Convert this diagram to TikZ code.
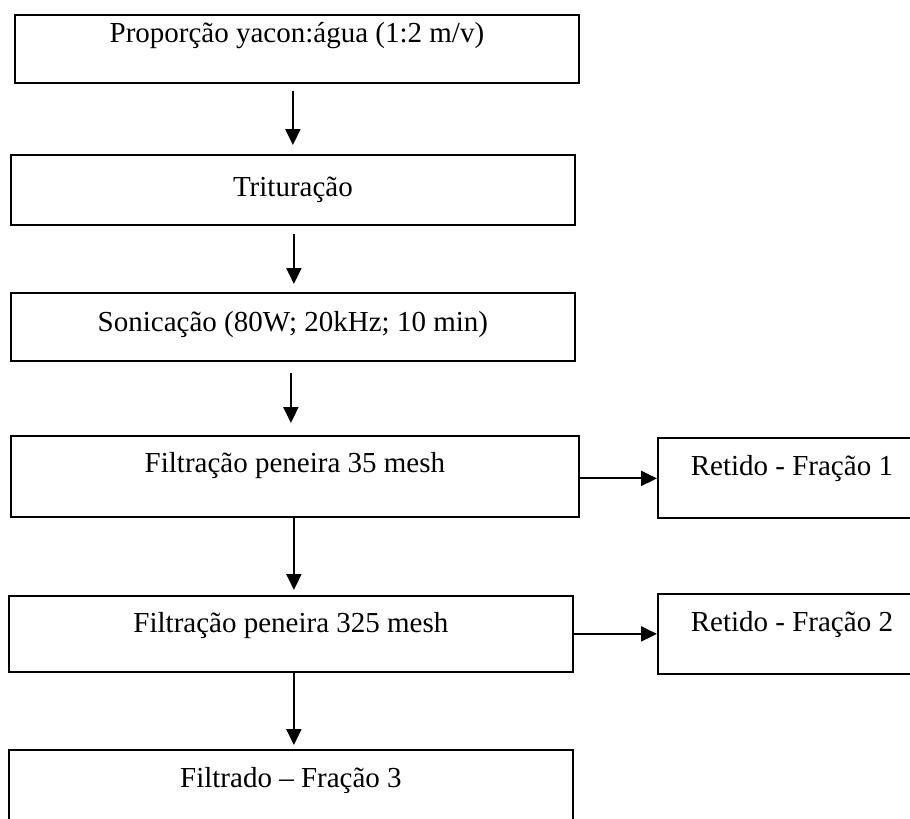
\documentclass[tikz,border=0pt]{standalone}
\usepackage{fontspec}
\setmainfont{Liberation Serif}
\usetikzlibrary{arrows.meta}
\begin{document}
\begin{tikzpicture}[x=1pt,y=-1pt,
  box/.style={draw=black, line width=1.8pt, rectangle, anchor=north west, inner xsep=0pt, inner ysep=0pt, align=center,
    font=\fontsize{29}{34}\selectfont},
  arr/.style={line width=2pt, -{Triangle[length=16pt,width=15pt]}}]
\fill[white] (0,0) rectangle (910,819);
\useasboundingbox (0,0) rectangle (910,819);
\clip (0,0) rectangle (910,819);
\node[box, minimum width=564pt, text height=28pt, text depth=40pt] (b1) at (14,14) {Proporção yacon:água (1:2 m/v)};
\node[box, minimum width=564pt, text height=42pt, text depth=28pt] (b2) at (10,154) {Trituração};
\node[box, minimum width=564pt, text height=39pt, text depth=29pt] (b3) at (10,292) {Sonicação (80W; 20kHz; 10 min)};
\node[box, minimum width=568pt, text height=37pt, text depth=44pt] (b4) at (10,435) {Filtração peneira 35 mesh};
\node[box, minimum width=268pt, text height=38pt, text depth=42pt] (r1) at (657,437) {Retido - Fração 1};
\node[box, minimum width=564pt, text height=37pt, text depth=39pt] (b5) at (8,595) {Filtração peneira 325 mesh};
\node[box, minimum width=268pt, text height=38pt, text depth=42pt] (r2) at (657,593) {Retido - Fração 2};
\node[box, minimum width=564pt, text height=38pt, text depth=45pt] (b6) at (8,749) {Filtrado – Fração 3};
\draw[arr, shorten <=7pt, shorten >=9pt] ([xshift=-4pt]b1.south) -- ([xshift=-4pt]b1.south |- b2.north);
\draw[arr, shorten <=8pt, shorten >=8pt] ([xshift=1pt]b2.south) -- ([xshift=1pt]b2.south |- b3.north);
\draw[arr, shorten <=11pt, shorten >=12pt] ([xshift=-2pt]b3.south) -- ([xshift=-2pt]b3.south |- b4.north);
\draw[arr, shorten >=5pt] ([xshift=-1pt]b4.south) -- ([xshift=-1pt]b4.south |- b5.north);
\draw[arr, shorten >=4pt] ([xshift=3pt]b5.south) -- ([xshift=3pt]b5.south |- b6.north);
\draw[arr] ([yshift=-2pt]b4.east) -- ([yshift=-2pt]b4.east -| r1.west);
\draw[arr] (b5.east) -- (b5.east -| r2.west);
\end{tikzpicture}
\end{document}
